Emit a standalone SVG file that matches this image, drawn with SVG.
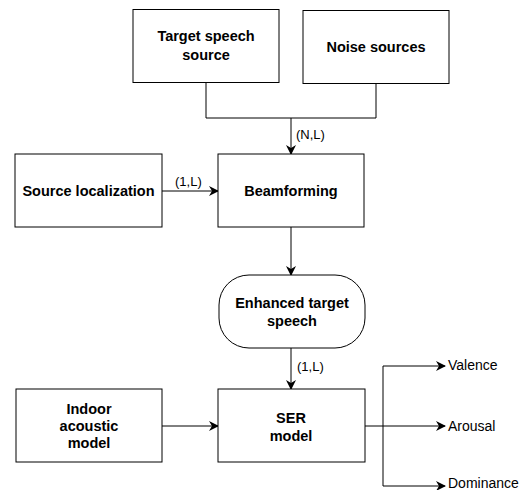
<svg xmlns="http://www.w3.org/2000/svg" width="527" height="490" viewBox="0 0 527 490">
<style>
.box{fill:#fff;stroke:#000;stroke-width:1}
.t{font-family:"Liberation Sans",Arial,sans-serif;font-size:14.5px;font-weight:bold;fill:#000;text-anchor:middle}
.l{font-family:"Liberation Sans",Arial,sans-serif;font-size:13px;fill:#000}
.o{font-family:"Liberation Sans",Arial,sans-serif;font-size:14px;fill:#000}
.c{fill:none;stroke:#000;stroke-width:1}
</style>
<defs>
<marker id="a" viewBox="0 0 10 10" refX="9" refY="5" markerWidth="10" markerHeight="10" markerUnits="userSpaceOnUse" orient="auto">
<path d="M0,0 L10,5 L0,10 L3,5 Z" fill="#000"/>
</marker>
</defs>
<g id="connectors">
<path class="c" d="M206,82 V118 H376 V83"/>
<path class="c" d="M291,118 V154" marker-end="url(#a)"/>
<path class="c" d="M162,191 H218" marker-end="url(#a)"/>
<path class="c" d="M291,227 V275" marker-end="url(#a)"/>
<path class="c" d="M291,348 V389" marker-end="url(#a)"/>
<path class="c" d="M162,426 H218" marker-end="url(#a)"/>
<path class="c" d="M365,426 H445" marker-end="url(#a)"/>
<path class="c" d="M383,426 V366 H445" marker-end="url(#a)"/>
<path class="c" d="M383,426 V486 H445" marker-end="url(#a)"/>
<text class="l" x="296" y="139">(N,L)</text>
<text class="l" x="175" y="186">(1,L)</text>
<text class="l" x="297" y="371">(1,L)</text>
</g>
<g id="target">
<rect class="box" x="133" y="9.5" width="146" height="73"/>
<text class="t" x="206" y="41">Target speech</text>
<text class="t" x="206" y="60">source</text>
</g>
<g id="noise">
<rect class="box" x="303" y="10.5" width="146" height="73"/>
<text class="t" x="376" y="52">Noise sources</text>
</g>
<g id="sourceloc">
<rect class="box" x="15" y="154" width="147" height="73"/>
<text class="t" x="88.5" y="196">Source localization</text>
</g>
<g id="beamforming">
<rect class="box" x="218" y="154" width="146" height="73"/>
<text class="t" x="291" y="196">Beamforming</text>
</g>
<g id="enhanced">
<rect class="box" x="219" y="275" width="146" height="73" rx="30" ry="30"/>
<text class="t" x="292" y="308">Enhanced target</text>
<text class="t" x="292" y="326">speech</text>
</g>
<g id="indoor">
<rect class="box" x="16" y="389" width="146" height="73"/>
<text class="t" x="89" y="414">Indoor</text>
<text class="t" x="89" y="431">acoustic</text>
<text class="t" x="89" y="448">model</text>
</g>
<g id="ser">
<rect class="box" x="218" y="389" width="147" height="73"/>
<text class="t" x="291" y="423">SER</text>
<text class="t" x="291" y="441">model</text>
</g>
<g id="outputs">
<text class="o" x="448" y="370">Valence</text>
<text class="o" x="448" y="431">Arousal</text>
<text class="o" x="448" y="488">Dominance</text>
</g>
</svg>
